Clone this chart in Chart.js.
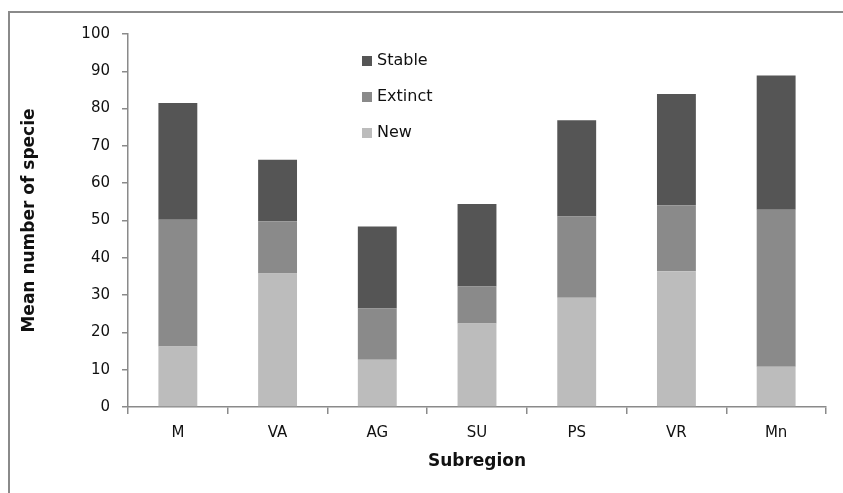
<!DOCTYPE html>
<html>
<head>
<meta charset="utf-8">
<script src="https://cdn.jsdelivr.net/npm/chart.js@4/dist/chart.umd.min.js"></script>
<style>
  html, body { margin: 0; padding: 0; background: #fff; }
  #wrap { position: relative; width: 843px; height: 493px; overflow: hidden; }
  #frame { position: absolute; left: 8px; top: 11px; width: 900px; height: 600px; border-left: 2px solid #8a8a8a; border-top: 2px solid #8a8a8a; box-sizing: border-box; }
  canvas { position: absolute; left: 0; top: 0; }
</style>
</head>
<body>
<div id="wrap">
  <div id="frame"></div>
  <canvas id="c" width="843" height="493"></canvas>
</div>
<script>
const categories = ["M", "VA", "AG", "SU", "PS", "VR", "Mn"];
const seriesNames = ["New", "Extinct", "Stable"];
const newValues = [16.2, 35.8, 12.7, 22.4, 29.3, 36.4, 10.8];
const extinctValues = [34.0, 14.0, 13.7, 9.9, 21.8, 17.7, 42.1];
const stableValues = [31.3, 16.5, 22.0, 22.1, 25.8, 29.8, 36.0];
const yTicks = [0, 10, 20, 30, 40, 50, 60, 70, 80, 90, 100];

const colors = ["#bcbcbc", "#8a8a8a", "#555555"];
const axisColor = "#8a8a8a";

const legendPlugin = {
  id: "customLegend",
  afterDraw(chart) {
    const ctx = chart.ctx;
    const items = chart.data.datasets.map((d, i) => ({ label: d.label, color: d.backgroundColor })).reverse();
    const x0 = 362, y0 = 61, step = 36;
    ctx.save();
    ctx.font = "16px 'DejaVu Sans'";
    ctx.textBaseline = "middle";
    items.forEach((it, i) => {
      const cy = y0 + i * step;
      ctx.fillStyle = it.color;
      ctx.fillRect(x0, cy - 5, 10, 10);
      ctx.fillStyle = "#111";
      ctx.fillText(it.label, x0 + 15, cy);
    });
    ctx.restore();
  }
};

new Chart(document.getElementById("c"), {
  type: "bar",
  data: {
    labels: categories,
    datasets: [
      { label: seriesNames[0], data: newValues, backgroundColor: colors[0] },
      { label: seriesNames[1], data: extinctValues, backgroundColor: colors[1] },
      { label: seriesNames[2], data: stableValues, backgroundColor: colors[2] }
    ]
  },
  options: {
    responsive: false,
    animation: false,
    devicePixelRatio: 1,
    layout: { padding: { left: 0, right: 17, top: 34, bottom: 0 } },
    datasets: { bar: { categoryPercentage: 1.0, barPercentage: 0.39, borderWidth: 0 } },
    plugins: {
      legend: { display: false },
      tooltip: { enabled: false }
    },
    scales: {
      x: {
        stacked: true,
        afterFit(scale) { scale.height = 86; },
        grid: { display: true, drawOnChartArea: false, drawTicks: true, tickLength: 7, color: axisColor, lineWidth: 1.5, offset: true },
        border: { display: true, color: axisColor, width: 1.5 },
        ticks: { color: "#111", font: { family: "DejaVu Sans", size: 15 }, padding: 10 },
        title: { display: true, text: "Subregion", color: "#111", font: { family: "DejaVu Sans", size: 17, weight: "bold" }, padding: { top: 8, bottom: 21 } }
      },
      y: {
        stacked: true,
        min: 0,
        max: 100,
        afterFit(scale) { scale.width = 128; },
        afterBuildTicks(scale) { scale.ticks = yTicks.map(v => ({ value: v })); },
        grid: { display: true, drawOnChartArea: false, drawTicks: true, tickLength: 6, color: axisColor, lineWidth: 1.5 },
        border: { display: true, color: axisColor, width: 1.5 },
        ticks: { color: "#111", font: { family: "DejaVu Sans", size: 15 }, padding: 12 },
        title: { display: true, text: "Mean number of specie", color: "#111", font: { family: "DejaVu Sans", size: 17, weight: "bold" }, padding: { top: 19, bottom: 12 } }
      }
    }
  },
  plugins: [legendPlugin]
});
</script>
</body>
</html>
